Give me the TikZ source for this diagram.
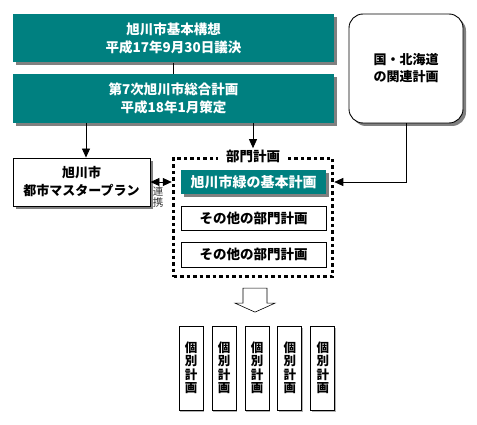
\documentclass[tikz,border=0pt]{standalone}
\usepackage{fontspec}
\setmainfont{Noto Sans CJK JP}
\usetikzlibrary{shadows,arrows.meta,calc}
\definecolor{aoMidori}{RGB}{0,128,128}
\begin{document}
\begin{tikzpicture}[x=1pt,y=-1pt,
    kage/.style={drop shadow={shadow xshift=3pt,shadow yshift=-3pt,fill=black!50,opacity=1}},
    moji/.style={font=\bfseries\fontsize{13.5}{18}\selectfont,align=center,inner sep=0pt},
    midoribox/.style={kage,moji,fill=aoMidori,text=white},
    shirobox/.style={kage,moji,draw,fill=white,line width=.9pt},
    ya/.style={-{Triangle[length=9pt,width=8pt]},line width=.8pt}]
  \useasboundingbox (0,0) rectangle (477,425);
  % ue no keikaku
  \node[midoribox,minimum width=321pt,minimum height=48pt] (kihon) at (173.5,38.5) {旭川市基本構想\\平成17年9月30日議決};
  \node[midoribox,minimum width=321pt,minimum height=49pt] (sougou) at (173.5,98.5) {第7次旭川市総合計画\\平成18年1月策定};
  \node[shirobox,rounded corners=14pt,minimum width=114pt,minimum height=109pt,font=\bfseries\fontsize{13}{17}\selectfont] (kuni) at (406,68.5) {国・北海道\\の関連計画};
  \draw[line width=.8pt] (kihon) -- (sougou);
  % bumon keikaku
  \node[shirobox,minimum width=137pt,minimum height=48pt,font=\bfseries\fontsize{13}{18}\selectfont] (master) at (81.5,182) {旭川市\\都市マスタープラン};
  \node[draw,line width=3.5pt,dash pattern=on 3.5pt off 3pt,minimum width=159pt,minimum height=118pt] (bumon) at (253,217.5) {};
  \node[moji,fill=white,inner xsep=8pt,inner ysep=2pt] (bumonlabel) at (bumon.north) {部門計画};
  \node[midoribox,minimum width=145pt,minimum height=24pt,font=\bfseries\fontsize{14}{18}\selectfont] (midori) at (253.5,182) {旭川市緑の基本計画};
  \node[moji,draw,line width=.9pt,minimum width=145pt,minimum height=24pt] (sonota1) at (253.5,218) {その他の部門計画};
  \node[moji,draw,line width=.9pt,minimum width=145pt,minimum height=25pt] (sonota2) at (253.5,254.5) {その他の部門計画};
  \draw[ya] ([xshift=4.5pt]master.north |- sougou.south) -- ([xshift=4.5pt]master.north);
  \draw[ya] (bumonlabel.north |- sougou.south) -- (bumonlabel.north);
  \draw[ya] (kuni.south) |- (bumon.east |- midori.east);
  \draw[ya,{Triangle[length=9pt,width=8pt]}-{Triangle[length=9pt,width=8pt]}] (master.east) -- (bumon.west |- master.east)
    node[midway,below=4pt,xshift=-3pt,inner sep=0pt,align=center,text=black!80,font=\fontsize{10.5}{11.5}\selectfont] (renkei) {連\\携};
  % kobetsu keikaku
  \matrix (kobetsu) at (257,368) [column sep=8pt,
      nodes={draw,fill=white,line width=.9pt,minimum width=24pt,minimum height=84pt,inner sep=0pt,align=center,
        font=\bfseries\fontsize{12.5}{13.5}\selectfont,
        drop shadow={shadow xshift=1pt,shadow yshift=-2pt,fill=black!30,opacity=1}}]{
      \node (k1) {個\\別\\計\\画}; & \node (k2) {個\\別\\計\\画}; & \node (k3) {個\\別\\計\\画}; &
      \node (k4) {個\\別\\計\\画}; & \node (k5) {個\\別\\計\\画}; \\
  };
  \coordinate (yajirushi) at ($(bumon.south)!.5!(kobetsu.north)$);
  \draw[line width=.6pt] ([shift={(-12,-12)}]yajirushi) -- ++(24,0) -- ++(0,15) -- ++(8,0)
    -- ++(-20,9) -- ++(-20,-9) -- ++(8,0) -- cycle;
\end{tikzpicture}
\end{document}
